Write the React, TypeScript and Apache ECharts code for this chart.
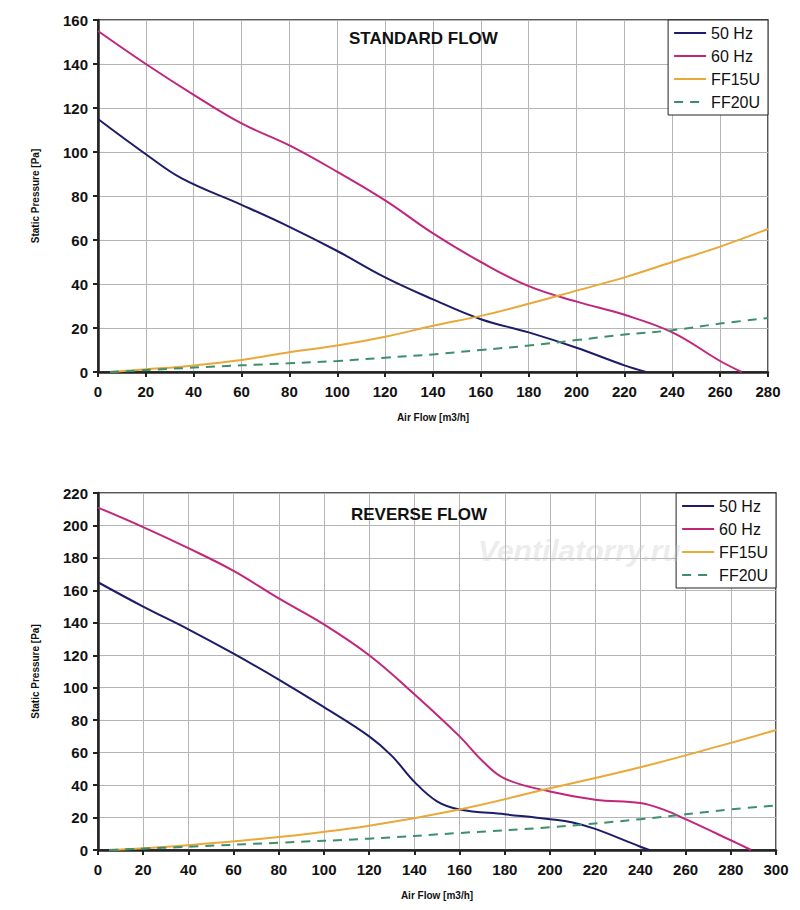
import { useRef, useEffect } from "react";
import * as echarts from "echarts";

// Standard flow curves: [air flow m3/h, static pressure Pa]
const std50: number[][] = [[0,115],[20,99],[35,88],[60,76],[80,66],[100,55],[120,43],[140,33],[160,24],[180,18],[200,11],[220,3],[229,0]];
const std60: number[][] = [[0,155],[20,140],[40,126],[60,113],[80,103],[100,91],[120,78],[140,63],[160,50],[180,39],[200,32],[220,26],[240,18],[260,5],[269,0]];
const stdFF15: number[][] = [[5,0],[20,1.2],[40,3],[60,5.5],[80,9],[100,12],[120,16],[140,21],[160,25.5],[180,31],[200,37],[220,43],[240,50],[260,57],[280,65]];
const stdFF20: number[][] = [[5,0],[40,2],[80,4],[100,5],[120,6.5],[140,8],[160,10],[180,12],[200,14.5],[220,17],[240,19],[260,22],[280,24.5]];

// Reverse flow curves
const rev50: number[][] = [[0,165],[20,150],[40,136],[60,121],[80,105],[100,88],[120,70],[130,58],[140,42],[150,30],[160,25],[180,22],[200,19],[210,17],[220,13],[240,2],[244,0]];
const rev60: number[][] = [[0,211],[20,199],[40,186],[60,172],[80,155],[100,139],[120,120],[140,96],[160,70],[170,55],[180,44],[200,36],[220,31],[240,29],[250,25],[260,19],[280,6],[289,0]];
const revFF15: number[][] = [[5,0],[40,3],[80,8],[120,15],[160,25],[200,38],[240,51],[280,66],[300,74]];
const revFF20: number[][] = [[5,0],[40,2],[80,4.5],[120,7],[160,10.5],[200,14],[240,19],[280,25],[300,27.5]];

const names = ["50 Hz", "60 Hz", "FF15U", "FF20U"];
const colors = ["#1c1c6a", "#c2267c", "#e9a838", "#3d8f6c"];

const App = () => {
  const chartRef = useRef<HTMLDivElement>(null);
  useEffect(() => {
    if (!chartRef.current) return;
    const myChart = echarts.init(chartRef.current, null, { renderer: "svg" });
    const font = "Arial, Liberation Sans, sans-serif";
    const axisLine = { show: true, lineStyle: { color: "#222", width: 2.5 } };
    const xAxis = (grid: number, max: number) => ({
      type: "value" as const, gridIndex: grid, min: 0, max, interval: 20,
      name: "Air Flow [m3/h]", nameLocation: "middle" as const, nameGap: 40,
      nameTextStyle: { fontSize: 10, fontWeight: "bold", color: "#111", fontFamily: font },
      axisLine, axisTick: { show: true, inside: false, length: 5, lineStyle: { color: "#222", width: 2 } },
      axisLabel: { fontSize: 15, fontWeight: "bold", color: "#111", fontFamily: font, margin: 12 },
      splitLine: { show: true, lineStyle: { color: "#b5b5b5", width: 1 } },
    });
    const yAxis = (grid: number, max: number) => ({
      type: "value" as const, gridIndex: grid, min: 0, max, interval: 20,
      name: "Static Pressure [Pa]", nameLocation: "middle" as const, nameGap: 58,
      nameTextStyle: { fontSize: 10, fontWeight: "bold", color: "#111", fontFamily: font },
      axisLine, axisTick: { show: true, length: 5, lineStyle: { color: "#222", width: 2 } },
      axisLabel: { fontSize: 15, fontWeight: "bold", color: "#111", fontFamily: font, margin: 10 },
      splitLine: { show: true, lineStyle: { color: "#b5b5b5", width: 1 } },
    });
    const mk = (data: number[][][], idx: number) =>
      data.map((d, i) => ({
        name: names[i], type: "line" as const, xAxisIndex: idx, yAxisIndex: idx,
        data: d, smooth: 0.4, symbol: "none", color: colors[i],
        lineStyle: { width: 2, color: colors[i], type: i === 3 ? ([9, 7] as any) : "solid" },
      }));
    const legend = (top: number, right: number) => ({
      data: names, orient: "vertical" as const, top, right,
      backgroundColor: "#fff", borderColor: "#222", borderWidth: 1, borderRadius: 0,
      padding: [5, 8, 5, 5], itemGap: 7, itemWidth: 32, itemHeight: 14,
      itemStyle: { opacity: 0 },
      textStyle: { fontSize: 16, color: "#111", fontFamily: font },
    });
    myChart.setOption({
      animation: false,
      backgroundColor: "#fff",
      title: [
        { text: "STANDARD FLOW", left: 344, top: 25, textStyle: { fontSize: 17, fontWeight: "bold", color: "#111", fontFamily: font } },
        { text: "REVERSE FLOW", left: 346, top: 501, textStyle: { fontSize: 17, fontWeight: "bold", color: "#111", fontFamily: font } },
      ],
      legend: [legend(20, 32), legend(493, 24)],
      grid: [
        { left: 98, top: 20, width: 670, height: 352, show: true, borderColor: "#222", borderWidth: 1.5, backgroundColor: "transparent" },
        { left: 98, top: 493, width: 678, height: 357, show: true, borderColor: "#222", borderWidth: 1.5, backgroundColor: "transparent" },
      ],
      xAxis: [xAxis(0, 280), xAxis(1, 300)],
      yAxis: [yAxis(0, 160), yAxis(1, 220)],
      graphic: [
        { type: "text", left: 478, top: 535, z: 100, style: { text: "Ventilatorry.ru", fontSize: 30, fontStyle: "italic", fontWeight: "bold", fill: "rgba(200,200,200,0.35)", fontFamily: font } },
      ],
      series: [...mk([std50, std60, stdFF15, stdFF20], 0), ...mk([rev50, rev60, revFF15, revFF20], 1)],
    });
    return () => myChart.dispose();
  }, []);
  return <div ref={chartRef} style={{ position: "fixed", left: 0, top: 0, width: 800, height: 910 }}></div>;
};

export default App;
